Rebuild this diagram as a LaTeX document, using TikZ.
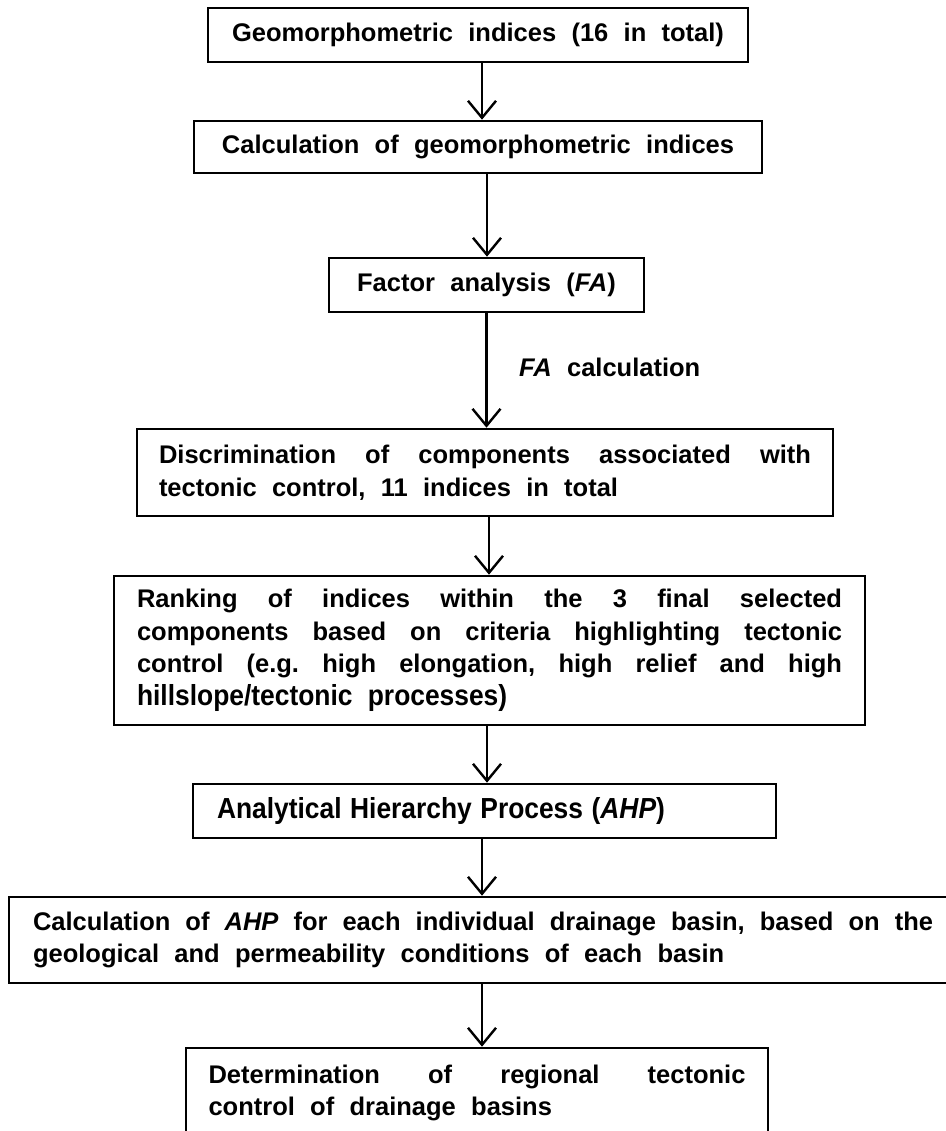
\documentclass[tikz,border=0pt]{standalone}
\usepackage{fontspec}
\setmainfont{Liberation Sans}
\newfontfamily\narrowfont[FakeStretch=0.91]{Liberation Sans}
\usetikzlibrary{arrows.meta}
\newcommand{\boxfont}{\fontsize{25.5}{32.5}\selectfont\bfseries\frenchspacing\spaceskip=0.6em plus 2em minus 0.1em\relax}
\newcommand{\ahpfont}{\narrowfont\fontsize{29}{32.5}\selectfont\bfseries}
\begin{document}
\begin{tikzpicture}[x=1pt,y=-1pt,
  box/.style={draw, line width=2.6pt, inner ysep=0pt, inner xsep=0pt, font=\boxfont},
  jbox/.style={box, align=justify},
  arr/.style={line width=2.4pt, -{Straight Barb[length=17pt,width=28pt,line width=2.4pt]}},
  lbl/.style={font=\boxfont, inner sep=0pt}]
\useasboundingbox[fill=white] (0,0) rectangle (945,1131);

\node[box, minimum width=540pt, minimum height=54pt] (b1) at (478,35)
  {Geomorphometric indices (16 in total)};
\node[box, minimum width=568pt, minimum height=52pt] (b2) at (478,147)
  {Calculation of geomorphometric indices};
\node[box, minimum width=315pt, minimum height=54pt] (b3) at (486.5,285)
  {Factor analysis (\textit{FA})};
\node[jbox, text width=652pt, inner xsep=22pt, minimum height=87pt] (b4) at (485,472.5)
  {Discrimination of components associated with\linebreak tectonic control, 11 indices in total};
\node[jbox, text width=705pt, inner xsep=23pt, minimum height=149pt] (b5) at (489.5,650.5)
  {Ranking of indices within the 3 final selected\linebreak components based on criteria highlighting tectonic\linebreak control (e.g. high elongation, high relief and high\linebreak {\ahpfont hillslope/tectonic processes)}};
\node[box, align=left, text width=535pt, inner xsep=24pt, minimum height=54pt] (b6) at (484.5,811)
  {\ahpfont Analytical Hierarchy Process (\textit{AHP})};
\node[jbox, text width=900pt, inner xsep=24pt, minimum height=86pt] (b7) at (483,940)
  {Calculation of \textit{AHP} for each individual drainage basin, based on the\linebreak geological and permeability conditions of each basin};
\node[jbox, text width=537pt, inner xsep=22.5pt, minimum height=90pt] (b8) at (477,1093)
  {Determination of regional tectonic\linebreak control of drainage basins};

\draw[arr] ([xshift=4pt]b1.south) -- ([xshift=4pt]b1.south |- b2.north);
\draw[arr] ([xshift=9pt]b2.south) -- ([xshift=9pt]b2.south |- b3.north);
\draw[arr] (b3.south) -- (b3.south |- b4.north);
\node[lbl, anchor=west] (fal) at (519,367) {\textit{FA} calculation};
\draw[arr] ([xshift=4pt]b4.south) -- ([xshift=4pt]b4.south |- b5.north);
\draw[arr] ([xshift=-2.5pt]b5.south) -- ([xshift=-2.5pt]b5.south |- b6.north);
\draw[arr] ([xshift=-2.5pt]b6.south) -- ([xshift=-2.5pt]b6.south |- b7.north);
\draw[arr] ([xshift=-1pt]b7.south) -- ([xshift=-1pt]b7.south |- b8.north);
\end{tikzpicture}
\end{document}
